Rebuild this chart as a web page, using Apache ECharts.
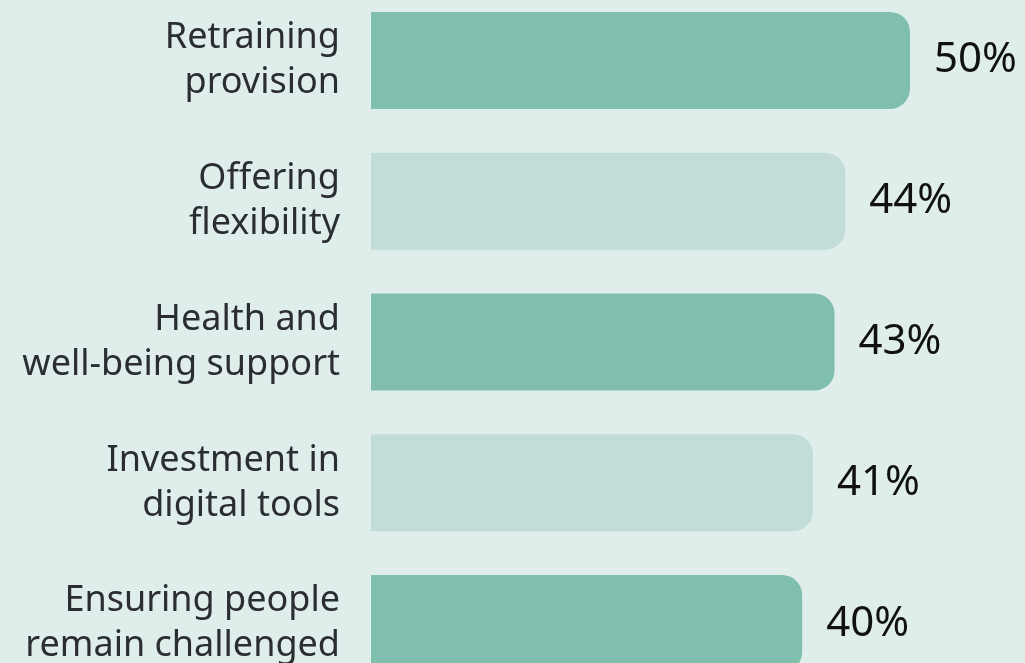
<!DOCTYPE html>
<html>
<head>
<meta charset="utf-8">
<script src="https://cdn.jsdelivr.net/npm/echarts@6/dist/echarts.min.js"></script>
<style>
  html, body { margin: 0; padding: 0; background: #e0eeeb; }
  #chart { width: 1025px; height: 663px; }
</style>
</head>
<body>
<div id="chart"></div>
<script>
// categories, top to bottom
let categories = [
    'Retraining\nprovision',
    'Offering\nflexibility',
    'Health and\nwell-being support',
    'Investment in\ndigital tools',
    'Ensuring people\nremain challenged'
]
// share of respondents, %
let values = [50, 44, 43, 41, 40]

let darkBar = '#80bfad'
let lightBar = '#c2ddd7'

let chart = echarts.init(document.getElementById('chart'))

let option = {
    backgroundColor: '#e0eeeb',
    animation: false,
    grid: {
        left: 371,
        width: 539,
        top: -10,
        height: 704,
        outerBoundsMode: 'none',
        containLabel: false
    },
    xAxis: {
        type: 'value',
        min: 0,
        max: 50,
        show: false
    },
    yAxis: {
        type: 'category',
        inverse: true,
        data: categories,
        axisLine: { show: false },
        axisTick: { show: false },
        axisLabel: {
            margin: 31,
            fontFamily: 'Noto Sans',
            fontSize: 36,
            lineHeight: 45,
            color: '#2a2e33',
            align: 'right'
        }
    },
    series: [{
        type: 'bar',
        data: values,
        barWidth: 97,
        itemStyle: {
            borderRadius: [0, 20, 20, 0],
            // alternate dark / light
            color(params) {
                return params.dataIndex % 2 === 0 ? darkBar : lightBar
            }
        },
        label: {
            show: true,
            position: 'right',
            distance: 24,
            fontFamily: 'Noto Sans',
            fontSize: 42,
            color: '#111111',
            formatter(params) {
                return params.value + '%'
            }
        }
    }]
}

chart.setOption(option)
</script>
</body>
</html>
